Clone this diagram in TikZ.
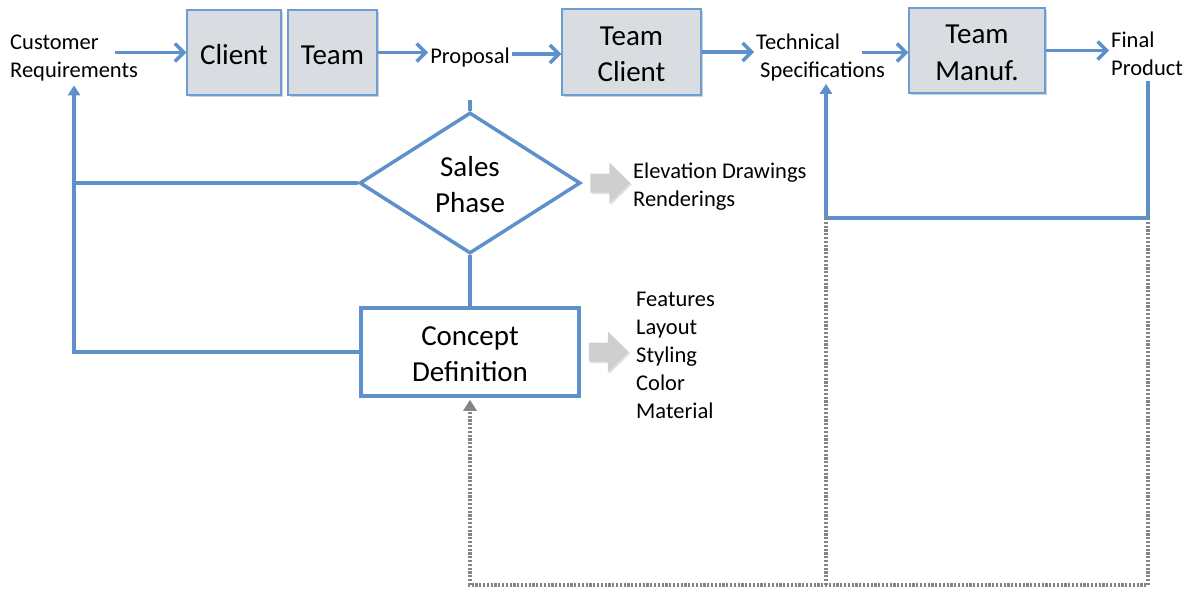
\documentclass[tikz,border=0pt]{standalone}
\usepackage{fontspec}
\setmainfont{Carlito}
\usetikzlibrary{arrows.meta,shapes.geometric,shadows,calc}
\definecolor{lblue}{HTML}{5E91CB}
\definecolor{bfill}{HTML}{D9DCE1}
\definecolor{bborder}{HTML}{6C9DD3}
\definecolor{dgray}{HTML}{858585}
\definecolor{afill}{HTML}{CFCFCF}
\tikzset{
  small/.style={font=\fontsize{22.5}{28}\selectfont, inner sep=2pt},
  big/.style={font=\fontsize{29}{36}\selectfont},
  oneline/.style={text height=30pt, text depth=6pt},
  twoline/.style={text height=62pt, text depth=3pt},
  gbox/.style={draw=bborder, line width=1.5pt, fill=bfill, big, align=center,
    drop shadow={shadow xshift=2pt, shadow yshift=-2pt, fill=black, opacity=0.18}},
  wbox/.style={draw=lblue, line width=3.5pt, fill=white, big, align=center,
    drop shadow={shadow xshift=2pt, shadow yshift=-2pt, fill=black, opacity=0.15}},
  arr/.style={draw=lblue, line width=3.5pt, -{Straight Barb[length=9pt,width=18pt]}},
  fbline/.style={draw=lblue, line width=3.5pt},
  fbarr/.style={draw=lblue, line width=3.5pt, -{Triangle[length=10pt,width=12pt]}},
  dotline/.style={draw=dgray, line width=3.5pt, dash pattern=on 2.2pt off 1.6pt},
  dotarr/.style={dotline, -{Triangle[length=11pt,width=13pt,fill=dgray]}},
  garrow/.style={fill=afill, draw=none,
    drop shadow={shadow xshift=1.5pt, shadow yshift=-1.5pt, fill=black, opacity=0.12}}
}
\begin{document}
\begin{tikzpicture}[x=1pt,y=-1pt]
\useasboundingbox (0,0) rectangle (1193,594);
% top row
\node[small, anchor=west, align=left] (cr) at (8,58) {Customer\\Requirements};
\node[gbox, oneline, minimum width=94pt, minimum height=85pt] (client) at (234,52.5) {Client};
\node[gbox, oneline, minimum width=89pt, minimum height=85pt] (team) at (332.5,52.5) {Team};
\node[small] (prop) at (470,58) {Proposal};
\node[gbox, twoline, minimum width=139pt, minimum height=86pt] (tc) at (631.5,52) {Team\\Client};
\node[small, anchor=west, align=left] (tech) at (754,58) {Technical\\\hspace*{4pt}Specifications};
\node[gbox, twoline, minimum width=136pt, minimum height=85pt] (tm) at (977,50.5) {Team\\Manuf.};
\node[small, anchor=west, align=left] (fp) at (1109,54) {Final\\Product};
% middle
\node[draw=lblue, line width=3.5pt, diamond, aspect=1.567, minimum width=221pt, minimum height=141pt,
  inner sep=0pt, fill=white, big, twoline, align=center] (sales) at (470,183) {Sales\\Phase};
\node[wbox, twoline, minimum width=218pt, minimum height=88pt] (concept) at (470,352) {Concept\\Definition};
\node[small, anchor=west, align=left] (elev) at (631,187) {Elevation Drawings\\Renderings};
\node[small, anchor=west, align=left] (feat) at (634,355) {Features\\Layout\\Styling\\Color\\Material};
% coordinates
\coordinate (rb) at (1148,218);
\coordinate (lb) at (826,218);
\coordinate (d1) at (1148,585);
\coordinate (d2) at (826,585);
\coordinate (d3) at (470,585);
% top arrows
\draw[arr] ($(client.west -| cr.east)+(-25,0)$) -- (client.west);
\draw[arr] (team.east) -- (team.east -| prop.west);
\draw[arr] ($(tc.west -| prop.east)+(0,2)$) -- ($(tc.west)+(0,2)$);
\draw[arr] (tc.east) -- (tc.east -| tech.west);
\draw[arr] ($(tm.west -| tech.east)+(-25,2)$) -- ($(tm.west)+(0,2)$);
\draw[arr] (tm.east) -- (tm.east -| fp.west);
% left feedback
\draw[fbline] ($(prop.south)+(0,30)$) -- (sales.north);
\draw[fbline] (sales.south) -- (concept.north);
\draw[fbline] (sales.west) -- (sales.west -| cr.south);
\draw[fbarr] (concept.west) -| ($(cr.south)+(0,2)$);
% right feedback
\draw[fbline] ($(fp.south -| rb)+(0,3)$) -- (rb) -- (lb);
\draw[fbarr] (lb) -- ($(lb |- tech.south)+(0,0)$);
% dotted feedback
\draw[dotline] (lb) -- (d2);
\draw[dotarr] (rb) -- (d1) -- (d3) -- ($(concept.south)+(0,2)$);
% grey block arrows
\fill[garrow] ($(sales.east)+(8,-9.5)$) -- ++(19,0) -- ++(0,-11) -- ++(21,20.5) -- ++(-21,20.5) -- ++(0,-11) -- ++(-19,0) -- cycle;
\fill[garrow] ($(concept.east)+(8,-9.5)$) -- ++(19,0) -- ++(0,-11) -- ++(21,20.5) -- ++(-21,20.5) -- ++(0,-11) -- ++(-19,0) -- cycle;
\end{tikzpicture}
\end{document}
